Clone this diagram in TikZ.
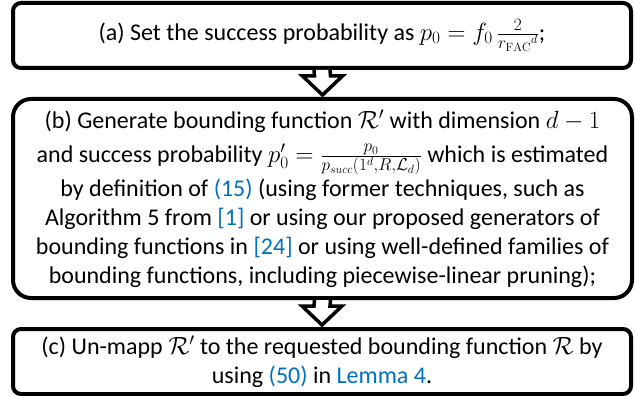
\documentclass[tikz,border=0pt]{standalone}
\usepackage{fontspec}
\setmainfont{Carlito}
\setmathrm{Latin Modern Roman}
\usetikzlibrary{calc}
\definecolor{refblue}{HTML}{0070C0}
\newcommand{\refc}[1]{\textcolor{refblue}{#1}}
\begin{document}
\begin{tikzpicture}[x=1pt,y=-1pt,
  stepbox/.style={draw=black, line width=4pt, fill=white, align=center,
    inner sep=0pt, font=\fontsize{24}{29}\selectfont},
  blockarrow/.style={draw=black, line width=3.5pt, fill=white, line join=miter}]
\useasboundingbox (0,0) rectangle (635,396);
\node[stepbox, rounded corners=8pt, minimum width=618pt, minimum height=65pt] (a) at (322,35.5)
  {(a) Set the success probability as $p_0=f_0\,\frac{2}{{r_{\mathrm{FAC}}}^{d}}$;};
\node[stepbox, rounded corners=18pt, minimum width=619pt, minimum height=199pt] (b) at (322.5,198.5)
  {(b) Generate bounding function $\mathcal{R}'$ with dimension $d-1$\\[5pt]
   and success probability $p_0'=\frac{p_0}{p_{succ}(1^d,R,\mathcal{L}_d)}$ which is estimated\\[3pt]
   by definition of \refc{(15)} (using former techniques, such as\\
   Algorithm 5 from \refc{[1]} or using our proposed generators of\\
   bounding functions in \refc{[24]} or using well-defined families of\\
   bounding functions, including piecewise-linear pruning);};
\node[stepbox, rounded corners=8pt, minimum width=618pt, minimum height=65pt] (c) at (322,361.5)
  {(c) Un-mapp $\mathcal{R}'$ to the requested bounding function $\mathcal{R}$ by\\
   using \refc{(50)} in \refc{Lemma 4}.};
% block arrows
\path[blockarrow]
  ($(a.south)+(-8,0)$) -- ($(b.north)+(-8,-21)$) -- ($(b.north)+(-20,-21)$)
  -- ($(b.north)+(0,-2)$) -- ($(b.north)+(20,-21)$) -- ($(b.north)+(8,-21)$)
  -- ($(a.south)+(8,0)$);
\path[blockarrow]
  ($(b.south)+(-8,0)$) -- ($(c.north)+(-8,-21)$) -- ($(c.north)+(-20,-21)$)
  -- ($(c.north)+(0,-2)$) -- ($(c.north)+(20,-21)$) -- ($(c.north)+(8,-21)$)
  -- ($(b.south)+(8,0)$);
\end{tikzpicture}
\end{document}
